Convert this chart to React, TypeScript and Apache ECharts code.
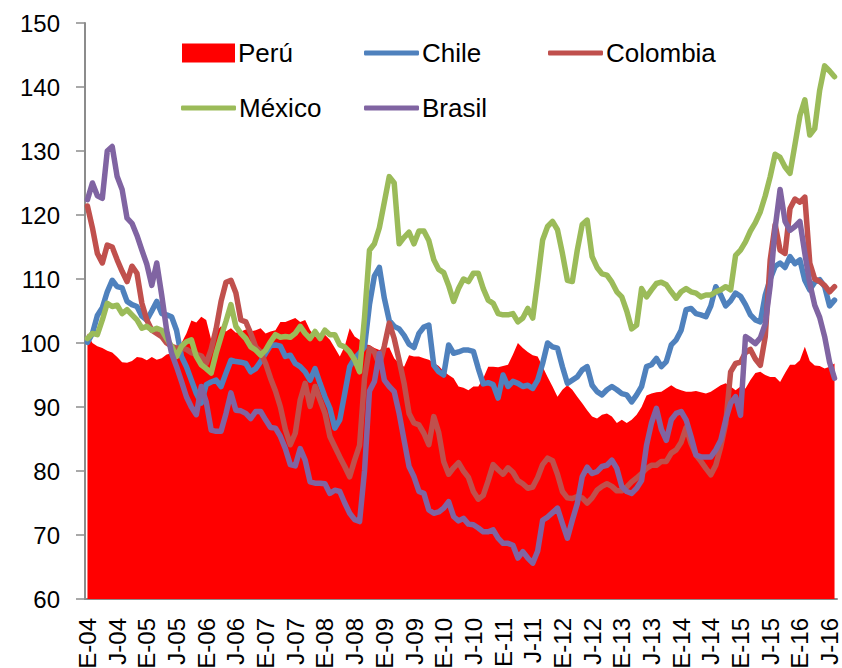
import React, { useEffect, useRef } from "react";
import * as echarts from "echarts";

// Month initials (Spanish) and years used to build the category labels
const monthLetters = ["E", "F", "M", "A", "M", "J", "J", "A", "S", "O", "N", "D"];
const years = ["04", "05", "06", "07", "08", "09", "10", "11", "12", "13", "14", "15", "16"];
const monthCount = 152; // Jan-2004 .. Aug-2016

const categories: string[] = [];
for (let i = 0; i < monthCount; i++) {
  categories.push(monthLetters[i % 12] + "-" + years[Math.floor(i / 12)]);
}

const yTicks = [60, 70, 80, 90, 100, 110, 120, 130, 140, 150];

const peru = [
  101.5, 100, 99.5, 99.2, 98.8, 98.5, 97.8, 97, 96.9, 97.2, 97.8, 97.7,
  97.3, 97.8, 97.4, 97.6, 98.2, 98.4, 99, 100, 101.5, 103.5, 103.2, 104.1,
  103.6, 100.5, 101.8, 102.6, 101.8, 102.3, 101.6, 101.8, 102.1, 101.8, 102, 102.3,
  101.5, 101.8, 102, 103.3, 103.3, 103.6, 103.9, 103.3, 103.6, 102, 101, 101,
  101.3, 100.5, 99.2, 97.9, 99.5, 102.3, 101, 100.5, 99.8, 99.7, 99.2, 98.9,
  99.2, 99.3, 97.6, 96.8, 96.3, 98.1, 97.9, 97.9, 97.6, 97.4, 96.9, 96.4,
  95.6, 95, 94.5, 93.2, 93, 92.6, 93.2, 93.2, 94.5, 96.3, 96.3, 96.2,
  96.4, 96.6, 98.2, 100, 99.2, 98.6, 98.1, 97.9, 96.3, 94.7, 93.2, 91.6,
  92.7, 93.4, 92.7, 91.6, 90.6, 89.5, 88.5, 88.2, 88.8, 89, 88.5, 87.5,
  88, 87.5, 88, 88.8, 90, 91.8, 92.1, 92.3, 92.4, 92.9, 93.4, 92.9,
  92.6, 92.4, 92.4, 92.5, 92.3, 92.1, 92.4, 92.9, 93.4, 93.7, 93.2, 92.6,
  93.2, 92.9, 94.2, 95.3, 95.5, 95, 94.7, 94.7, 93.9, 95.3, 96.6, 96.6,
  97.3, 99.4, 97.2, 96.5, 96.4, 96, 96.3, 96.8,
];

const chile = [
  100.1, 101.5, 104.3, 105.5, 108, 109.8, 108.8, 108.6, 106.5, 106, 105.7, 104.2,
  103.6, 105, 106.5, 104.6, 104.4, 104.1, 102, 97.9, 96.3, 94.2, 92.1, 90.6,
  93.5, 93.9, 94.2, 93.2, 95.3, 97.3, 97.1, 97, 96.8, 95.5, 96, 97.1,
  98.4, 99.6, 99.7, 99.5, 97.9, 98.1, 96.8, 96.3, 95.5, 94.2, 96, 93.7,
  91.6, 89.8, 86.7, 88, 92.1, 96.3, 97.6, 98.4, 99.4, 106, 110.5, 111.8,
  107, 103.5, 102.6, 102.2, 101.2, 99.8, 99.3, 101.5, 102.5, 102.8, 96.5, 95.5,
  95, 99.7, 98.4, 98.6, 98.9, 98.9, 98.7, 96, 93.6, 93.8, 93.5, 91.4,
  95, 93.2, 94, 93.7, 93.2, 93.4, 92.9, 94.2, 96.8, 100, 99.4, 99.2,
  96.3, 93.7, 94.2, 94.7, 95.8, 96.3, 93.4, 92.4, 91.9, 92.7, 93.2, 92.7,
  92.1, 91.9, 90.8, 91.9, 93.2, 96.3, 96.6, 97.6, 96.3, 97.1, 99.7, 100.5,
  102, 105.2, 105.4, 104.6, 104.4, 104.1, 105.8, 108.8, 107.5, 105.8, 106.6, 107.8,
  107.3, 106, 104.4, 103.6, 103.3, 107.5, 110, 112, 112.5, 111.8, 113.5, 112.4,
  113, 109.8, 108.3, 109.5, 109.9, 108.8, 105.8, 106.7,
];

const colombia = [
  121.4, 118, 114, 112.5, 115.3, 115, 113, 111.2, 109.6, 112, 110.9, 106.2,
  103.6, 102, 101.5, 101, 100, 99.5, 99.2, 99.2, 99, 98.5, 98.2, 98,
  96.8, 99, 102.2, 106.5, 109.5, 109.8, 107.8, 103.6, 103.3, 101.5, 99.4, 98.6,
  96.8, 94.5, 92.5, 90, 86.5, 84.1, 85.9, 91.1, 93.7, 90.1, 93.2, 91.1,
  89, 85.4, 83.8, 82.2, 80.7, 79.1, 81.7, 84, 94.5, 99.2, 98.6, 96.5,
  99.5, 103.1, 100.7, 97.3, 93.7, 89, 87.5, 87.2, 85.9, 84.1, 88.5, 86,
  81.5, 79.5, 80.5, 81.3, 80, 79, 76.8, 75.6, 76.2, 78.5, 81, 80.2,
  79.5, 80.5, 79.8, 78.5, 78, 77.3, 77.5, 79, 81, 82, 81.6, 79.5,
  76.8, 75.8, 75.7, 76, 75.8, 75, 75.8, 77, 77.6, 78, 77.6, 76.9,
  76.9, 77.5, 78.3, 78.9, 79.6, 80.4, 80.9, 80.9, 81.5, 81.5, 82.8, 83.3,
  84.5, 86.8, 84.3, 82.5, 81.5, 80.4, 79.4, 80.9, 83.8, 87.4, 95.5, 96.8,
  97, 98.5, 99, 97.5, 96.5, 101, 113, 118.5, 114.5, 114, 121, 122.5,
  122, 122.8, 112.5, 110, 109.6, 109, 108, 108.8,
];

const mexico = [
  100.7, 101.5, 101.3, 103.6, 106.2, 105.7, 105.9, 104.6, 105.2, 104.4, 103.6, 102.3,
  102.6, 102, 102.3, 102, 100.7, 99.5, 97.9, 99.5, 100.2, 100.5, 97.9, 96.6,
  96, 95.3, 98.4, 101, 103.4, 106, 102.6, 101.5, 100.7, 99.4, 98.9, 98.1,
  98.9, 100.2, 101.3, 100.9, 101, 100.9, 101.5, 102.6, 101.5, 100.7, 101.8, 100.7,
  102, 101.3, 101.3, 99.7, 99.4, 98.6, 97.4, 95.5, 104, 114.5, 115.5, 118,
  122, 126, 125, 115.5, 116.5, 117.3, 115.5, 117.5, 117.5, 116, 113, 111.5,
  111, 109, 106.5, 108.5, 110, 109.6, 110.9, 110.9, 108.5, 106.7, 106.2, 104.6,
  104.4, 104.4, 104.6, 103.3, 103.9, 105.4, 103.9, 109.8, 116.1, 118.2, 119, 117.7,
  114, 109.8, 109.6, 114.5, 118.5, 119.2, 113.5, 111.8, 110.8, 110.6, 109.5, 108,
  107.2, 105, 102.2, 102.8, 108.5, 107.2, 108.3, 109.3, 109.5, 109.1, 108, 107,
  108, 108.5, 108, 107.8, 107.2, 107.5, 107.5, 108, 108.3, 108.8, 108.3, 113.7,
  114.5, 115.8, 117.5, 118.8, 120.5, 123, 126, 129.5, 129, 127.5, 126.5, 131,
  135.5, 138, 132.5, 133.5, 139.5, 143.3, 142.5, 141.6,
];

const brasil = [
  122.4, 125, 123, 122.6, 130, 130.7, 126, 124, 119.5, 118.7, 116.8, 114.5,
  112.3, 109, 112.5, 107.5, 102, 98.4, 96.3, 94, 91.6, 90, 88.8, 93.2,
  90.8, 86.4, 86.2, 86.2, 89, 92.2, 89.5, 89.4, 89, 88.2, 89.3, 89.3,
  88, 86.8, 86.7, 85.4, 83.5, 81, 80.8, 83.5, 81.7, 78.3, 78.1, 78.1,
  78, 76.5, 77, 76.8, 75, 73.4, 72.4, 72.1, 80, 92.5, 94, 98.4,
  94.2, 93.2, 92.4, 89, 84.8, 80.7, 79.1, 76.8, 76.5, 73.9, 73.4, 73.6,
  74.2, 75.2, 72.9, 72.2, 72.6, 71.7, 71.6, 71.1, 70.5, 70.5, 70.8, 69.5,
  68.7, 68.7, 68.4, 66.4, 67.4, 66.4, 65.6, 67.5, 72.3, 72.8, 73.5, 74.2,
  71.8, 69.5, 72.3, 74.9, 79.1, 80.6, 79.6, 79.9, 80.7, 80.9, 81.7, 80.4,
  77.6, 76.8, 76.5, 77.3, 78.5, 84, 87.5, 89.8, 86.5, 84.8, 88, 89,
  89.3, 88, 85.4, 82.5, 82.2, 82.2, 82.2, 83.3, 84.8, 88, 90.6, 91.6,
  88.7, 101, 100.5, 99.9, 100.8, 103, 109, 118, 124, 119, 117.6, 118.2,
  119, 114, 109.3, 105.9, 104, 101, 97, 94.5,
];

const FONT = "Liberation Sans";

const lineSeries = (name: string, data: number[], color: string) => ({
  name,
  type: "line",
  data,
  symbol: "none",
  smooth: false,
  color,
  lineStyle: { color, width: 5.5, join: "round", cap: "round" },
  z: 3,
});

const legendItem = (name: string, left: number, top: number, isArea: boolean) => ({
  data: [name],
  left,
  top,
  orient: "horizontal",
  icon: isArea ? "rect" : "roundRect",
  itemWidth: isArea ? 53 : 55,
  itemHeight: isArea ? 19 : 5,
  selectedMode: false,
  padding: 0,
  textStyle: { fontFamily: FONT, fontSize: 26, color: "#000", padding: [0, 0, 0, -2] },
});

export default function App() {
  const ref = useRef<HTMLDivElement>(null);
  useEffect(() => {
    if (!ref.current) return;
    const chart = echarts.init(ref.current, undefined, { renderer: "svg" });
    chart.setOption({
      animation: false,
      backgroundColor: "#ffffff",
      grid: { left: 85, right: 5, top: 23, bottom: 69, containLabel: false, outerBoundsMode: "none" },
      legend: [
        legendItem("Perú", 182, 40, true),
        legendItem("Chile", 364, 40, false),
        legendItem("Colombia", 548, 40, false),
        legendItem("México", 181, 95, false),
        legendItem("Brasil", 364, 95, false),
      ],
      xAxis: {
        type: "category",
        data: categories,
        boundaryGap: true,
        axisLine: { lineStyle: { color: "#8c8c8c", width: 2 } },
        axisTick: { show: false },
        axisLabel: {
          interval: 5,
          rotate: 90,
          margin: 19,
          fontFamily: FONT,
          fontSize: 24,
          color: "#000",
        },
        splitLine: { show: false },
      },
      yAxis: {
        type: "value",
        min: yTicks[0],
        max: yTicks[yTicks.length - 1],
        interval: 10,
        axisLine: { show: true, lineStyle: { color: "#8c8c8c", width: 2 } },
        axisTick: { show: true, inside: false, length: 9, lineStyle: { color: "#8c8c8c", width: 1.5 } },
        axisLabel: { margin: 25, fontFamily: FONT, fontSize: 24, color: "#000" },
        splitLine: { show: false },
      },
      series: [
        {
          name: "Perú",
          type: "line",
          data: peru,
          symbol: "none",
          color: "#FF0000",
          lineStyle: { width: 0, opacity: 0 },
          areaStyle: { color: "#FF0000", opacity: 1, origin: "start" },
          z: 2,
        },
        lineSeries("Chile", chile, "#4F81BD"),
        lineSeries("Colombia", colombia, "#C0504D"),
        lineSeries("México", mexico, "#9BBB59"),
        lineSeries("Brasil", brasil, "#8064A2"),
      ],
    });
    return () => chart.dispose();
  }, []);
  return (
    <div
      ref={ref}
      style={{ position: "fixed", left: 0, top: 0, width: 842, height: 668, background: "#fff" }}
    />
  );
}
